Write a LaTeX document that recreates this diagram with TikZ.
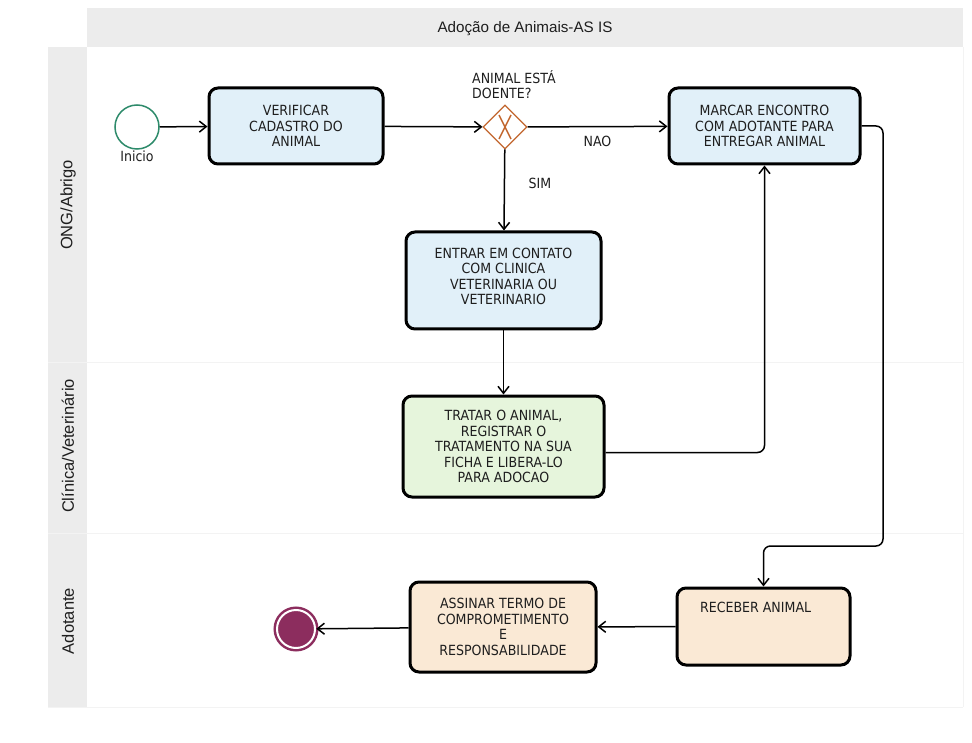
\documentclass[tikz,border=0pt]{standalone}
\usepackage{fontspec}
\setmainfont[FakeStretch=0.9]{DejaVu Sans}
\newfontfamily\lanefont{Liberation Sans}
\usepackage{xcolor}
\usepackage{tikz}
\usetikzlibrary{positioning,shapes.geometric,arrows.meta}
\definecolor{lanegray}{HTML}{ECECEC}
\definecolor{sepgray}{HTML}{F3F3F3}
\definecolor{taskblue}{HTML}{E1F0F9}
\definecolor{taskgreen}{HTML}{E6F5DC}
\definecolor{taskbeige}{HTML}{FAE9D5}
\definecolor{startgreen}{HTML}{2E8B6B}
\definecolor{gwbrown}{HTML}{C2662E}
\definecolor{endred}{HTML}{8C2D5E}
\definecolor{txtgray}{HTML}{1E1E1E}

\begin{document}
\begin{tikzpicture}[x=1pt,y=-1pt,
	task/.style={draw=black, line width=3pt, rounded corners=9pt, align=center, text=txtgray, font=\fontsize{14}{15.5}\selectfont, inner sep=4pt},
	flow/.style={line width=1.5pt, -{Straight Barb[length=7pt,width=11pt]}},
	lbl/.style={text=txtgray, font=\fontsize{14}{15.5}\selectfont},
	lane/.style={rotate=90, font=\lanefont\fontsize{16.5}{18}\selectfont, text=txtgray}]
		\useasboundingbox (0,0) rectangle (972,743);
		% swimlanes
		\fill[lanegray] (87,8) rectangle (963,47);
		\fill[lanegray] (48,47) rectangle (87,707);
		\draw[sepgray, line width=1pt] (48,362) -- (963,362);
		\draw[sepgray, line width=1pt] (48,533) -- (963,533);
		\draw[sepgray, line width=1pt] (48,707) -- (963,707);
		\draw[sepgray, line width=1pt] (963,47) -- (963,707);
		\node[font=\lanefont\fontsize{15.2}{17}\selectfont, text=txtgray] (title) at (525,29) {Adoção de Animais-AS IS};
		\node[lane] (ong) at (68,205) {ONG/Abrigo};
		\node[lane] (clin) at (68,446) {Clínica/Veterinário};
		\node[lane] (adot) at (68,621) {Adotante};
		
		\node[circle, draw=startgreen, line width=1.5pt, fill=white, minimum size=44pt, inner sep=0pt, label={[lbl, label distance=-2pt]below:Inicio}] (start) at (137,127) {};
		\node[task, fill=taskblue, minimum width=174pt, minimum height=76pt] (verif) at (296,126) {VERIFICAR\\CADASTRO DO\\ANIMAL};
		\node[diamond, draw=gwbrown, line width=1.2pt, fill=white, aspect=1, minimum size=44pt, inner sep=0pt,
			path picture={\draw[gwbrown, line width=1.4pt] ([shift={(-6,-12)}]path picture bounding box.center) -- ([shift={(6,12)}]path picture bounding box.center) ([shift={(6,-12)}]path picture bounding box.center) -- ([shift={(-6,12)}]path picture bounding box.center);}] (gw) at (505,127) {};
		\node[lbl, align=left, anchor=south west, inner sep=0pt] (gwlbl) at (472,99) {ANIMAL ESTÁ\\DOENTE?};
		\node[task, fill=taskblue, minimum width=191pt, minimum height=76pt] (marcar) at (764.5,126) {MARCAR ENCONTRO\\COM ADOTANTE PARA\\ENTREGAR ANIMAL};
		\node[task, fill=taskblue, minimum width=195pt, minimum height=97pt] (entrar) at (503.5,280.5) {ENTRAR EM CONTATO\\COM CLINICA\\VETERINARIA OU\\VETERINARIO\\[-7pt]};
		\node[task, fill=taskgreen, minimum width=201pt, minimum height=101pt] (tratar) at (503.5,446.5) {TRATAR O ANIMAL,\\REGISTRAR O\\TRATAMENTO NA SUA\\FICHA E LIBERA-LO\\PARA ADOCAO};
		\node[task, fill=taskbeige, minimum width=173pt, minimum height=77pt,
			label={[lbl, anchor=north west, xshift=21pt, yshift=-12pt]north west:RECEBER ANIMAL}] (receber) at (763.5,626.5) {};
		\node[task, fill=taskbeige, minimum width=186pt, minimum height=90pt] (assinar) at (503,627) {ASSINAR TERMO DE\\COMPROMETIMENTO\\E\\RESPONSABILIDADE};
		\node[circle, draw=endred, fill=endred, line width=2.5pt, double=white, double distance=2pt, minimum size=38pt, inner sep=0pt] (fim) at (296,629) {};
		\coordinate (turn) at (883,546);
		
		\draw[flow] (start) -- (verif);
		\draw[flow] (verif) -- (gw);
		\draw[flow] (gw) -- node[lbl, below=5pt] (nao) {NAO} (marcar);
		\draw[flow] (gw) -- node[lbl, right=20pt, pos=0.42] (sim) {SIM} (entrar);
		\draw[flow] (entrar) -- (tratar);
		\draw[flow, rounded corners=7pt] ([yshift=-6pt]tratar.east) -| (marcar.south);
		\draw[flow, rounded corners=7pt] (marcar.east) -| (turn) -| (receber.north);
		\draw[flow] (receber) -- (assinar);
		\draw[flow] (assinar) -- (fim);
	\end{tikzpicture}
\end{document}
